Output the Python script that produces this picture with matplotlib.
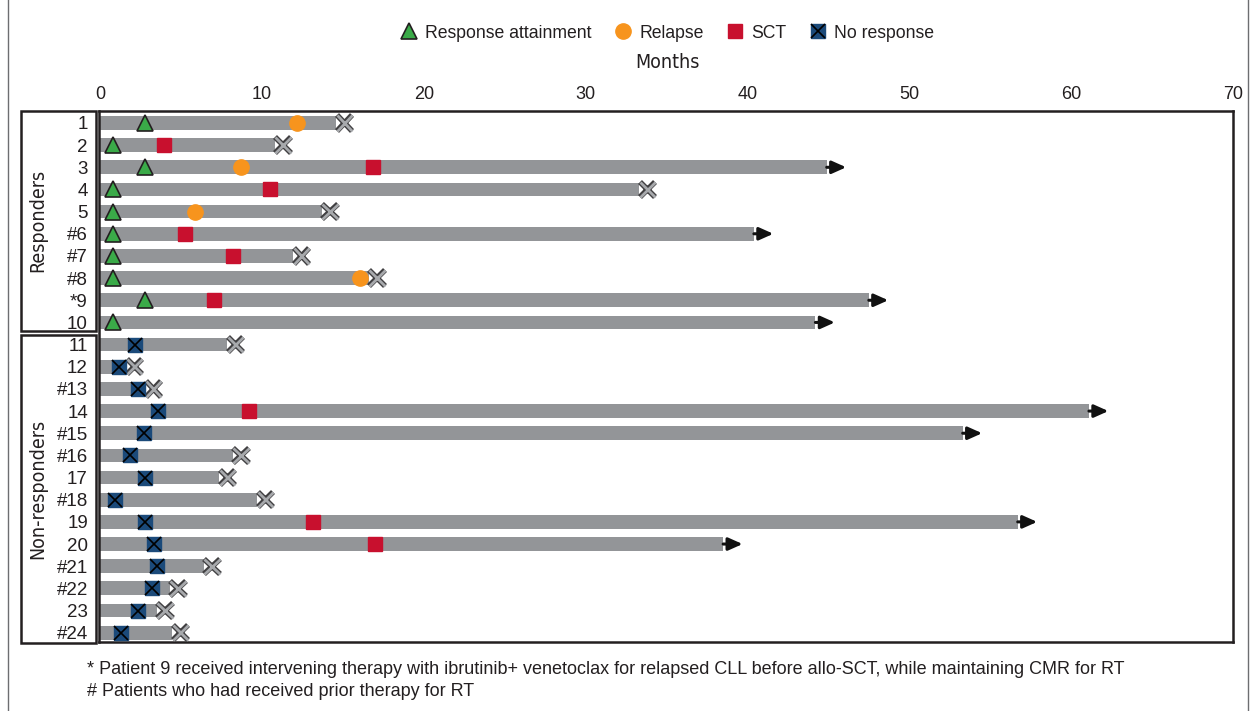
import numpy as np
import matplotlib
matplotlib.use("Agg")
import matplotlib.pyplot as plt
from matplotlib import transforms
from matplotlib.lines import Line2D
from matplotlib.patches import Rectangle
import matplotlib.patheffects as pe

plt.rcParams['font.family'] = ['Liberation Sans', 'DejaVu Sans']

nan = np.nan

# Patients, top to bottom
patients = ['1', '2', '3', '4', '5', '#6', '#7', '#8', '*9', '10',
            '11', '12', '#13', '14', '#15', '#16', '17', '#18', '19', '20',
            '#21', '#22', '23', '#24']

# Follow-up duration (months)
followup = [14.6, 10.8, 44.9, 33.3, 13.7, 40.4, 11.95, 16.6, 47.5, 44.2,
            7.85, 1.6, 2.8, 61.1, 53.3, 8.2, 7.35, 9.7, 56.7, 38.5,
            6.4, 4.3, 3.5, 4.45]

# True = follow-up ongoing (arrow), False = died (cross)
ongoing = [False, False, True, False, False, True, False, False, True, True,
           False, False, False, True, True, False, False, False, True, True,
           False, False, False, False]

# Event times (months)
response = [2.8, 0.8, 2.8, 0.8, 0.8, 0.8, 0.8, 0.8, 2.8, 0.8] + [nan] * 14
relapse = [12.2, nan, 8.7, nan, 5.9, nan, nan, 16.05, nan, nan] + [nan] * 14
sct = [nan, 3.95, 16.85, 10.5, nan, 5.25, 8.2, nan, 7.05, nan,
       nan, nan, nan, 9.2, nan, nan, nan, nan, 13.15, 17.0,
       nan, nan, nan, nan]
no_response = [nan] * 10 + [2.15, 1.17, 2.36, 3.56, 2.72, 1.85, 2.78, 0.93,
                            2.78, 3.33, 3.52, 3.2, 2.35, 1.3]

groups = ['Responders', 'Non-responders']

GREEN = '#3aaa48'
ORANGE = '#f7941d'
RED = '#c8102e'
NAVY = '#1b4a7a'
BAR = '#939598'
INK = '#231f20'

W, H = 1256, 711
fig = plt.figure(figsize=(W / 100, H / 100), dpi=100)
ax = fig.add_axes([99 / W, 1 - 642 / H, (1233 - 99) / W, (642 - 111) / H])

y = np.arange(len(patients))
ax.barh(y, followup, height=0.62, color=BAR, zorder=1)

# Ongoing follow-up arrows / death crosses
cross_shift = transforms.offset_copy(ax.transData, fig=fig, x=6, y=0, units='points')
for yi, f, on in zip(y, followup, ongoing):
    if on:
        ax.annotate('', xy=(f, yi), xycoords='data', xytext=(14, 0),
                    textcoords='offset points',
                    arrowprops=dict(arrowstyle='<|-,head_length=0.85,head_width=0.38',
                                    color='#111111', lw=2.2, shrinkA=0, shrinkB=0),
                    zorder=2)
    else:
        ax.plot([f], [yi], linestyle='none', marker='x', markersize=11,
                markeredgewidth=2.0, color='#a7a9ac', transform=cross_shift,
                path_effects=[pe.Stroke(linewidth=4.0, foreground='#414042'), pe.Normal()],
                zorder=4)

ax.plot(response, y, linestyle='none', marker='^', markersize=11,
        markerfacecolor=GREEN, markeredgecolor=INK, markeredgewidth=1.2, zorder=5)
ax.plot(relapse, y, linestyle='none', marker='o', markersize=11,
        markerfacecolor=ORANGE, markeredgecolor=ORANGE, zorder=5)
ax.plot(sct, y, linestyle='none', marker='s', markersize=10.5,
        markerfacecolor=RED, markeredgecolor=RED, zorder=5)
ax.plot(no_response, y, linestyle='none', marker='s', markersize=10.5,
        markerfacecolor=NAVY, markeredgecolor=NAVY, zorder=5)
ax.plot(no_response, y, linestyle='none', marker='x', markersize=10,
        markeredgewidth=1.2, color='black', zorder=6)

ax.set_xlim(-0.06, 70)
ax.set_ylim(23.42, -0.54)
ax.xaxis.tick_top()
ax.set_xticks(range(0, 71, 10))
ax.tick_params(axis='x', length=0, pad=6, labelsize=13, colors=INK)
ax.set_yticks(y, patients)
ax.tick_params(axis='y', length=0, pad=8, labelsize=13.5, colors=INK)
for s in ax.spines.values():
    s.set_linewidth(1.8)
    s.set_color(INK)

narrow = dict(family=['Liberation Sans Narrow', 'DejaVu Sans'], fontstretch='condensed')

# Group boxes and labels
blend = transforms.blended_transform_factory(fig.transFigure, ax.transData)
box_bounds = [(-0.54, 9.38), (9.56, 23.45)]
for name, (top, bottom) in zip(groups, box_bounds):
    ax.add_patch(Rectangle((21 / W, top), (96 - 21) / W, bottom - top,
                           transform=blend, fill=False, lw=1.8, edgecolor=INK,
                           clip_on=False))
    ax.text(38 / W, (top + bottom) / 2, name, transform=blend, rotation=90,
            ha='center', va='center', fontsize=14, color=INK, **narrow)

fig.text(667 / W, 1 - 63 / H, 'Months', ha='center', va='center',
         fontsize=14, color=INK, **narrow)

# Legend
handles = [
    Line2D([], [], linestyle='none', marker='^', markersize=11,
           markerfacecolor=GREEN, markeredgecolor=INK, markeredgewidth=1.2),
    Line2D([], [], linestyle='none', marker='o', markersize=11,
           markerfacecolor=ORANGE, markeredgecolor=ORANGE),
    Line2D([], [], linestyle='none', marker='s', markersize=10.5,
           markerfacecolor=RED, markeredgecolor=RED),
    (Line2D([], [], linestyle='none', marker='s', markersize=10.5,
            markerfacecolor=NAVY, markeredgecolor=NAVY),
     Line2D([], [], linestyle='none', marker='x', markersize=10,
            markeredgewidth=1.2, color='black')),
]
legend_labels = ['Response attainment', 'Relapse', 'SCT', 'No response']
fig.legend(handles, legend_labels, loc='center', bbox_to_anchor=(667 / W, 1 - 33 / H),
           ncol=4, frameon=False, fontsize=12.7, handletextpad=0.4,
           columnspacing=1.3, handlelength=1.0, labelcolor=INK)

fig.text(87 / W, 1 - 670 / H,
         '* Patient 9 received intervening therapy with ibrutinib+ venetoclax for relapsed CLL '
         'before allo-SCT, while maintaining CMR for RT',
         ha='left', va='center', fontsize=13, color=INK)
fig.text(87 / W, 1 - 692 / H, '# Patients who had received prior therapy for RT',
         ha='left', va='center', fontsize=13, color=INK)

# Outer frame
for xf in (8 / W, 1248 / W):
    fig.add_artist(Line2D([xf, xf], [0, 1], transform=fig.transFigure,
                          color='#6d6e71', lw=1.0))

fig.savefig('out.png', dpi=100)
